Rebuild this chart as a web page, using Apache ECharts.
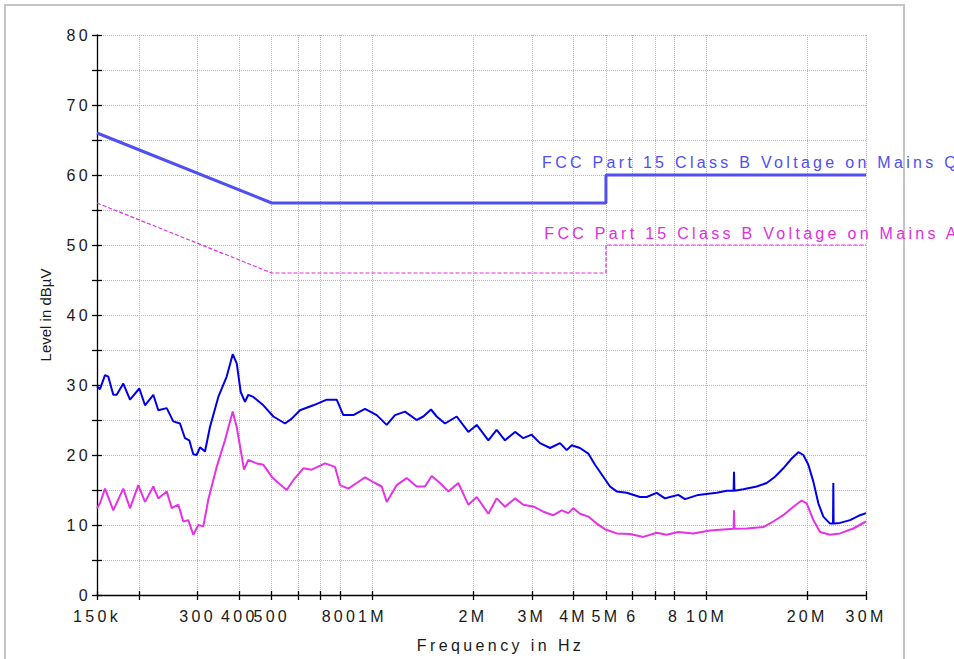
<!DOCTYPE html>
<html><head><meta charset="utf-8">
<script src="https://cdn.jsdelivr.net/npm/echarts@6/dist/echarts.min.js"></script>
<style>
html,body{margin:0;padding:0;background:#fff}
#c{width:954px;height:659px}
#c text{letter-spacing:3.3px}
</style>
</head><body><div id="c"></div>
<script>
// ---- axis ticks / labels ----
const xTickFreqs = [150e3,200e3,300e3,400e3,500e3,600e3,700e3,800e3,1e6,2e6,3e6,4e6,5e6,6e6,7e6,8e6,10e6,20e6,30e6];
const xLabelFreqs = [150e3,300e3,400e3,500e3,800e3,1e6,2e6,3e6,4e6,5e6,6e6,8e6,10e6,20e6,30e6];
const xLabelTexts = ['150k','300','400','500','800','1M','2M','3M','4M','5M','6','8','10M','20M','30M'];

// ---- measured QP trace (blue) ----
const qpFreqKHz = [150,153.1,158.5,162.1,167.8,171.8,179.8,188.3,200.8,208.8,221.1,228.8,242.5,253.7,265.7,275,283.3,291.2,298.1,305,315.7,326.7,346,366.6,382.1,392.8,403.7,415.8,425.4,440.3,471.9,505.5,547.9,573.8,607.5,665.8,730.3,782.3,818.6,877,950.8,1030.6,1104,1169,1252,1357,1421,1498,1558,1650,1788,1937,2053,2224,2355,2494,2672,2830,2997,3174,3402,3644,3816,3950,4181,4428,4637,4909,5142,5384,5768,6322,6621,7092,7509,7773,8231,8619,9447,10728,11493,12050,12083,12116,12882,14129,15135,16027,16969,17979,18825,19482,20167,20871,21602,22357,23416,23900,23953,24000,25084,26876,28794,30000];
const qpLevel = [29.8,29.4,31.4,31.2,28.6,28.6,30.2,27.9,29.5,27.1,28.6,26.4,26.7,24.8,24.5,22.4,22.1,20.1,20.0,21.1,20.5,24.0,28.3,31.2,34.4,33.1,29.0,27.6,28.6,28.3,27.1,25.5,24.5,25.2,26.4,27.1,27.9,27.9,25.7,25.7,26.6,25.7,24.3,25.7,26.2,25.0,25.5,26.5,25.5,24.5,25.5,23.3,24.3,22.1,23.6,22.1,23.3,22.4,22.9,21.7,21.0,21.7,20.7,21.4,21.0,20.2,18.6,16.9,15.5,14.8,14.6,14.0,14.0,14.6,13.8,14.0,14.3,13.7,14.3,14.6,14.9,14.9,17.6,14.9,15.1,15.5,16.0,16.9,18.1,19.5,20.4,20.0,18.6,16.2,13.1,11.2,10.2,10.2,16.0,10.2,10.3,10.7,11.4,11.7];

// ---- measured AV trace (magenta) ----
const avFreqKHz = [150,153.1,158.5,167.8,179.8,188.3,199.4,208.8,221.1,228.8,242.5,251,262.7,271.8,281.4,291.2,301.4,312,322.9,342.2,362.3,382.1,392.8,413.1,425.4,450.8,471.9,499.9,523.2,554.3,580.1,621.5,658.5,721.8,773.3,800.4,847.3,897.8,950.8,1018.6,1066.7,1104,1183,1267,1357,1437,1505,1594,1688,1808,1937,2053,2224,2355,2494,2672,2830,3050,3248,3480,3687,3858,3993,4181,4428,4691,4966,5384,5903,6468,7092,7597,8231,9126,10242,11493,12050,12083,12116,13189,14784,15838,16969,18184,19259,19937,20871,21857,23416,25084,27485,30000];
const avLevel = [12.4,13.1,15.2,12.1,15.2,12.4,15.7,13.3,15.5,13.8,14.8,12.4,12.9,10.5,10.7,8.6,10.0,9.8,13.6,18.3,22.1,26.2,24.0,17.9,19.3,18.8,18.6,16.9,16.0,15.0,16.4,18.1,17.9,18.8,18.3,15.7,15.2,16.0,16.8,16.0,15.5,13.3,15.7,16.7,15.5,15.5,17.0,16.0,14.8,16.0,12.9,14.0,11.6,13.8,12.6,13.8,12.9,12.6,11.9,11.4,12.1,11.7,12.4,11.6,11.2,10.2,9.4,8.8,8.7,8.3,8.9,8.6,9.0,8.8,9.2,9.4,9.45,12.1,9.45,9.5,9.7,10.5,11.4,12.6,13.5,13.1,10.7,9.0,8.6,8.8,9.5,10.5];

// ---- limit lines ----
const qpLimitFreqKHz = [150,500,5000,5000,30000];
const qpLimitLevel = [66,56,56,60,60];
const avLimitFreqKHz = [150,500,5000,5000,30000];
const avLimitLevel = [56,46,46,50,50];
const qpLimitName = 'FCC Part 15 Class B Voltage on Mains QP';
const avLimitName = 'FCC Part 15 Class B Voltage on Mains AV';

const yName = 'Level in dBµV';
const xName = 'Frequency in Hz';

const lg = Math.log10;
const toData = (fk, lv) => fk.map((f, i) => [lg(f * 1000), lv[i]]);
const xMin = lg(150e3), xMax = lg(30e6);
const tickVals = xTickFreqs.map(lg);
const labelVals = xLabelFreqs.map(lg);
function xLabelFmt(v) {
  let best = 0, bd = 1e9;
  labelVals.forEach((lv, i) => { const d = Math.abs(lv - v); if (d < bd) { bd = d; best = i; } });
  return xLabelTexts[best];
}
const FONT = 'Liberation Sans, Arial, sans-serif';
const gridLine = { show: true, lineStyle: { color: '#b4b4b4', type: [1, 1], width: 1 } };

const chart = echarts.init(document.getElementById('c'), null, { renderer: 'svg' });
chart.setOption({
  animation: false,
  backgroundColor: '#fff',
  textStyle: { fontFamily: FONT },
  graphic: [{ type: 'rect', shape: { x: 5, y: 5, width: 899, height: 700 }, style: { fill: 'none', stroke: '#c4c4c4', lineWidth: 2 }, silent: true, z: -10 }],
  grid: { left: 97, right: 88, top: 35, bottom: 64, containLabel: false },
  xAxis: [{
    type: 'value', min: xMin, max: xMax,
    name: xName, nameLocation: 'middle', nameGap: 42,
    nameTextStyle: { fontSize: 16, color: '#1a1a1a', fontFamily: FONT, padding: [0, 0, 0, 38] },
    axisLine: { show: true, lineStyle: { color: '#000', width: 1.3 } },
    axisTick: { show: true, length: 5, inside: false, customValues: tickVals, lineStyle: { color: '#000', width: 1.3 } },
    axisLabel: { customValues: labelVals, formatter: xLabelFmt, fontSize: 16, color: '#1a1a1a', margin: 13, fontFamily: FONT },
    splitLine: gridLine
  }, {
    type: 'value', min: xMin, max: xMax, position: 'top', offset: -560,
    axisLine: { show: false },
    axisTick: { show: true, length: 4, customValues: tickVals, lineStyle: { color: '#000', width: 1.3 } },
    axisLabel: { show: false }, splitLine: { show: false }
  }],
  yAxis: [{
    type: 'value', min: 0, max: 80, interval: 10,
    name: yName, nameLocation: 'middle', nameGap: 44, nameRotate: 90,
    nameTextStyle: { fontSize: 15, color: '#1a1a1a', fontFamily: FONT },
    axisLine: { show: true, lineStyle: { color: '#000', width: 1.3 } },
    axisTick: { show: true, length: 5, lineStyle: { color: '#000', width: 1.3 } },
    minorTick: { show: true, splitNumber: 2, length: 5, lineStyle: { color: '#000', width: 1.3 } },
    axisLabel: { fontSize: 16, color: '#1a1a1a', margin: 6, fontFamily: FONT },
    splitLine: gridLine,
    minorSplitLine: gridLine
  }, {
    type: 'value', min: 0, max: 80, interval: 10, position: 'right', offset: -769,
    axisLine: { show: false },
    axisTick: { show: true, length: 5, lineStyle: { color: '#000', width: 1.3 } },
    minorTick: { show: true, splitNumber: 2, length: 5, lineStyle: { color: '#000', width: 1.3 } },
    axisLabel: { show: false }, splitLine: { show: false }
  }],
  series: [
    {
      name: qpLimitName, type: 'line', showSymbol: false, symbol: 'none',
      data: toData(qpLimitFreqKHz, qpLimitLevel),
      lineStyle: { color: '#5050f0', width: 3 }, z: 2,
      markPoint: {
        symbol: 'circle', symbolSize: 0, silent: true,
        label: { show: true, position: 'right', distance: 0, formatter: qpLimitName, color: '#5050f0', fontSize: 16, fontFamily: FONT },
        data: [{ coord: [lg(3.22e6), 61.8] }]
      }
    },
    {
      name: avLimitName, type: 'line', showSymbol: false, symbol: 'none',
      data: toData(avLimitFreqKHz, avLimitLevel),
      lineStyle: { color: '#e030e0', width: 1.2, type: [4, 2] }, z: 2,
      markPoint: {
        symbol: 'circle', symbolSize: 0, silent: true,
        label: { show: true, position: 'right', distance: 0, formatter: avLimitName, color: '#e030e0', fontSize: 16, fontFamily: FONT },
        data: [{ coord: [lg(3.27e6), 51.7] }]
      }
    },
    {
      name: 'QP', type: 'line', showSymbol: false, symbol: 'none',
      data: toData(qpFreqKHz, qpLevel),
      lineStyle: { color: '#0000e8', width: 2 }, z: 3
    },
    {
      name: 'AV', type: 'line', showSymbol: false, symbol: 'none',
      data: toData(avFreqKHz, avLevel),
      lineStyle: { color: '#e632e6', width: 2 }, z: 3
    }
  ]
});
function styleAll(t, props) {
  [t].concat(Array.from(t.querySelectorAll('*'))).forEach(el => Object.assign(el.style, props));
}
function fixText() {
  document.querySelectorAll('#c text').forEach(t => {
    const s = t.textContent.trim();
    if (s === yName) styleAll(t, { letterSpacing: '0px', fontSize: '15px' });
    if (s === xName) styleAll(t, { letterSpacing: '3.4px', fontSize: '16px' });
  });
}
chart.on('finished', fixText);
setTimeout(fixText, 50);
</script>
</body></html>
